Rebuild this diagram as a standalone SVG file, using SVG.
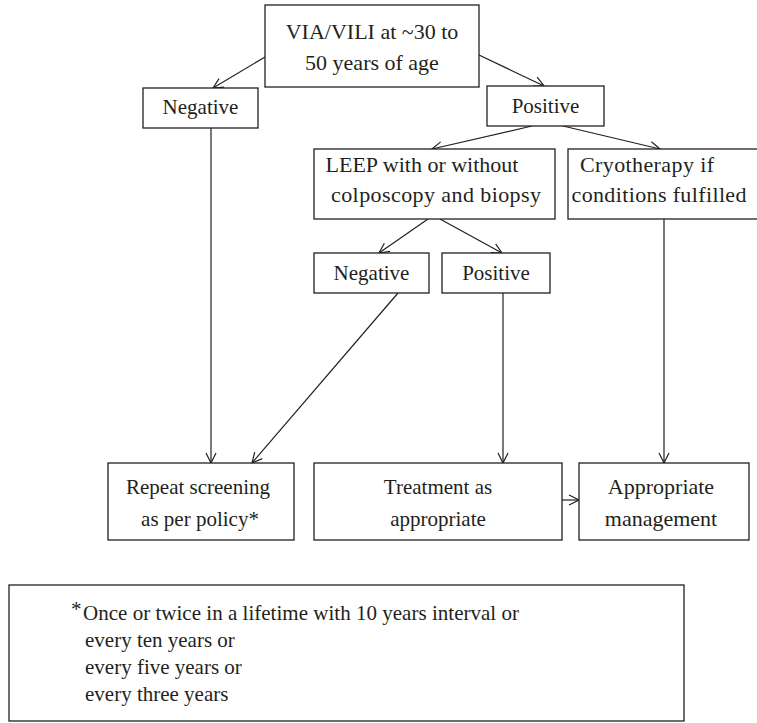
<svg xmlns="http://www.w3.org/2000/svg" width="757" height="723" viewBox="0 0 757 723">
<style>
.box{fill:#fff;stroke:#231f20;stroke-width:1.3}
.t{font-family:"Liberation Serif","Times New Roman",serif;font-size:21px;fill:#231f20;text-anchor:middle}
.w{font-size:22px}
.f{font-family:"Liberation Serif","Times New Roman",serif;font-size:21px;fill:#231f20}
.c{fill:none;stroke:#231f20;stroke-width:1.2;marker-end:url(#ah)}
</style>
<defs>
<marker id="ah" viewBox="0 0 12 12" refX="11" refY="6" markerWidth="12" markerHeight="12" markerUnits="userSpaceOnUse" orient="auto">
<path d="M1,1 L11,6 L1,11" fill="none" stroke="#231f20" stroke-width="1.2"/>
</marker>
</defs>
<rect width="757" height="723" fill="#fff"/>
<g id="connectors">
<line class="c" x1="265" y1="57" x2="213" y2="88"/>
<line class="c" x1="479" y1="55" x2="544" y2="86"/>
<line class="c" x1="532" y1="126" x2="432" y2="149"/>
<line class="c" x1="563" y1="126" x2="660" y2="149"/>
<line class="c" x1="428" y1="219" x2="379" y2="253"/>
<line class="c" x1="440" y1="219" x2="502" y2="253"/>
<line class="c" x1="211" y1="128" x2="211" y2="463"/>
<line class="c" x1="398" y1="293" x2="252" y2="463"/>
<line class="c" x1="503" y1="293" x2="503" y2="463"/>
<line class="c" x1="664" y1="219" x2="664" y2="463"/>
<line class="c" x1="562" y1="500" x2="579" y2="500"/>
</g>
<g id="n-start">
<rect class="box" x="265" y="5" width="214" height="82"/>
<text class="t w" x="372" y="39">VIA/VILI at ~30 to</text>
<text class="t w" x="372" y="70">50 years of age</text>
</g>
<g id="n-neg1">
<rect class="box" x="143" y="88" width="115" height="40"/>
<text class="t" x="200.5" y="114">Negative</text>
</g>
<g id="n-pos1">
<rect class="box" x="487" y="86" width="117" height="40"/>
<text class="t" x="545.5" y="113">Positive</text>
</g>
<g id="n-leep">
<rect class="box" x="314" y="149" width="241" height="70"/>
<text class="t w" x="422" y="172">LEEP with or without</text>
<text class="t w" x="436" y="202" textLength="210" lengthAdjust="spacing">colposcopy and biopsy</text>
</g>
<g id="n-cryo">
<rect class="box" x="568" y="149" width="192" height="70"/>
<text class="t w" x="647" y="172" textLength="134" lengthAdjust="spacing">Cryotherapy if</text>
<text class="t w" x="659" y="202" textLength="175" lengthAdjust="spacing">conditions fulfilled</text>
</g>
<g id="n-neg2">
<rect class="box" x="314" y="253" width="115" height="40"/>
<text class="t" x="371.5" y="280">Negative</text>
</g>
<g id="n-pos2">
<rect class="box" x="442" y="253" width="108" height="40"/>
<text class="t" x="496" y="280">Positive</text>
</g>
<g id="n-repeat">
<rect class="box" x="108" y="463" width="186" height="77"/>
<text class="t" x="198" y="494">Repeat screening</text>
<text class="t" x="200" y="526">as per policy*</text>
</g>
<g id="n-treat">
<rect class="box" x="314" y="463" width="248" height="77"/>
<text class="t" x="438" y="494">Treatment as</text>
<text class="t" x="438" y="526">appropriate</text>
</g>
<g id="n-manage">
<rect class="box" x="579" y="463" width="170" height="77"/>
<text class="t w" x="661" y="494">Appropriate</text>
<text class="t w" x="661" y="526">management</text>
</g>
<g id="n-footnote">
<rect class="box" x="9" y="585" width="675" height="136"/>
<text class="f" x="71" y="616" font-size="16px">*</text>
<text class="f" x="83" y="620" textLength="436" lengthAdjust="spacing">Once or twice in a lifetime with 10 years interval or</text>
<text class="f" x="85" y="647">every ten years or</text>
<text class="f" x="85" y="674">every five years or</text>
<text class="f" x="85" y="701">every three years</text>
</g>
</svg>
